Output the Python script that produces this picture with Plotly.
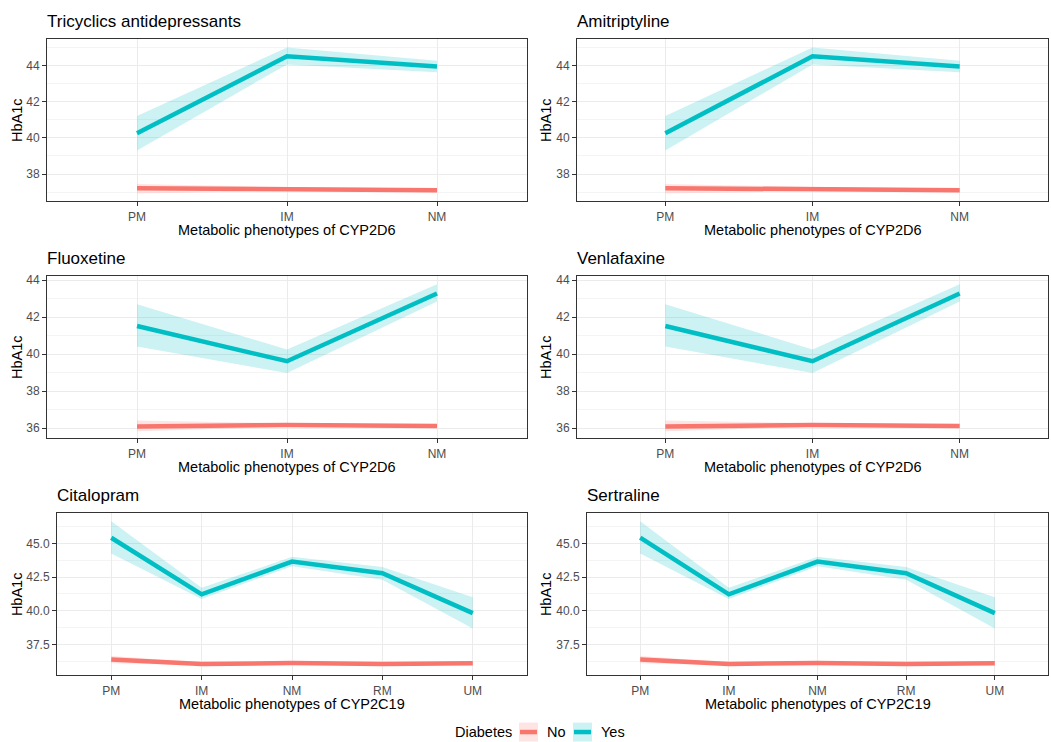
import plotly.graph_objects as go

# ---------------- data ----------------
cyp2d6_cats = ["PM", "IM", "NM"]
cyp2c19_cats = ["PM", "IM", "NM", "RM", "UM"]

tca_yes_mean = [40.25, 44.50, 43.93]
tca_yes_lo = [39.30, 44.05, 43.62]
tca_yes_hi = [41.20, 44.98, 44.25]
tca_no_mean = [37.22, 37.17, 37.10]
tca_no_lo = [36.92, 37.06, 37.00]
tca_no_hi = [37.45, 37.28, 37.20]

ami_yes_mean = [40.25, 44.50, 43.93]
ami_yes_lo = [39.30, 44.05, 43.62]
ami_yes_hi = [41.20, 44.98, 44.25]
ami_no_mean = [37.22, 37.17, 37.10]
ami_no_lo = [36.92, 37.06, 37.00]
ami_no_hi = [37.45, 37.28, 37.20]

flx_yes_mean = [41.52, 39.62, 43.28]
flx_yes_lo = [40.42, 38.98, 42.85]
flx_yes_hi = [42.70, 40.25, 43.78]
flx_no_mean = [36.10, 36.18, 36.12]
flx_no_lo = [35.84, 36.08, 36.04]
flx_no_hi = [36.42, 36.27, 36.20]

ven_yes_mean = [41.52, 39.62, 43.28]
ven_yes_lo = [40.42, 38.98, 42.85]
ven_yes_hi = [42.70, 40.25, 43.78]
ven_no_mean = [36.10, 36.18, 36.12]
ven_no_lo = [35.84, 36.08, 36.04]
ven_no_hi = [36.42, 36.27, 36.20]

cit_yes_mean = [45.42, 41.22, 43.65, 42.78, 39.82]
cit_yes_lo = [44.25, 40.88, 43.30, 42.30, 38.68]
cit_yes_hi = [46.65, 41.70, 44.00, 43.25, 41.00]
cit_no_mean = [36.38, 36.05, 36.12, 36.05, 36.10]
cit_no_lo = [36.10, 35.95, 36.02, 35.96, 35.98]
cit_no_hi = [36.64, 36.15, 36.22, 36.14, 36.25]

ser_yes_mean = [45.42, 41.22, 43.65, 42.78, 39.82]
ser_yes_lo = [44.25, 40.88, 43.30, 42.30, 38.68]
ser_yes_hi = [46.65, 41.70, 44.00, 43.25, 41.00]
ser_no_mean = [36.38, 36.05, 36.12, 36.05, 36.10]
ser_no_lo = [36.10, 35.95, 36.02, 35.96, 35.98]
ser_no_hi = [36.64, 36.15, 36.22, 36.14, 36.25]

panel_titles = ["Tricyclics antidepressants", "Amitriptyline", "Fluoxetine",
                "Venlafaxine", "Citalopram", "Sertraline"]
legend_labels = ["No", "Yes"]

# ---------------- styling / layout ----------------
W, H = 1051, 742
COL_NO = "#F8766D"
COL_YES = "#00BFC4"
FILL_NO = "rgba(248,118,109,0.2)"
FILL_YES = "rgba(0,191,196,0.2)"
FONT = "Liberation Sans, Arial, sans-serif"

def px(x):
    return x / W

def py(y):
    return 1 - y / H

panels = [
    dict(title=panel_titles[0], cats=cyp2d6_cats, gene="CYP2D6",
         yes=(tca_yes_mean, tca_yes_lo, tca_yes_hi), no=(tca_no_mean, tca_no_lo, tca_no_hi),
         box=(47, 36, 527, 199), yr=[36.50, 45.46], dtick=2, t0=38, fmt="d", ytx=17),
    dict(title=panel_titles[1], cats=cyp2d6_cats, gene="CYP2D6",
         yes=(ami_yes_mean, ami_yes_lo, ami_yes_hi), no=(ami_no_mean, ami_no_lo, ami_no_hi),
         box=(577, 36, 1048, 199), yr=[36.50, 45.46], dtick=2, t0=38, fmt="d", ytx=546),
    dict(title=panel_titles[2], cats=cyp2d6_cats, gene="CYP2D6",
         yes=(flx_yes_mean, flx_yes_lo, flx_yes_hi), no=(flx_no_mean, flx_no_lo, flx_no_hi),
         box=(47, 274, 527, 437), yr=[35.46, 44.23], dtick=2, t0=36, fmt="d", ytx=17),
    dict(title=panel_titles[3], cats=cyp2d6_cats, gene="CYP2D6",
         yes=(ven_yes_mean, ven_yes_lo, ven_yes_hi), no=(ven_no_mean, ven_no_lo, ven_no_hi),
         box=(577, 274, 1048, 437), yr=[35.46, 44.23], dtick=2, t0=36, fmt="d", ytx=546),
    dict(title=panel_titles[4], cats=cyp2c19_cats, gene="CYP2C19",
         yes=(cit_yes_mean, cit_yes_lo, cit_yes_hi), no=(cit_no_mean, cit_no_lo, cit_no_hi),
         box=(57, 512, 527, 675), yr=[35.21, 47.26], dtick=2.5, t0=37.5, fmt=".1f", ytx=17),
    dict(title=panel_titles[5], cats=cyp2c19_cats, gene="CYP2C19",
         yes=(ser_yes_mean, ser_yes_lo, ser_yes_hi), no=(ser_no_mean, ser_no_lo, ser_no_hi),
         box=(587, 512, 1048, 675), yr=[35.21, 47.26], dtick=2.5, t0=37.5, fmt=".1f", ytx=546),
]

fig = go.Figure()
annotations = []
layout_axes = {}

for i, p in enumerate(panels):
    k = "" if i == 0 else str(i + 1)
    xa, ya = "x" + k, "y" + k
    n = len(p["cats"])
    xs = list(range(n))
    # ribbons
    for (mean, lo, hi), fc in ((p["no"], FILL_NO), (p["yes"], FILL_YES)):
        fig.add_trace(go.Scatter(
            x=xs + xs[::-1], y=list(lo) + list(hi)[::-1],
            fill="toself", fillcolor=fc, line=dict(width=0), mode="lines",
            hoverinfo="skip", showlegend=False, xaxis=xa, yaxis=ya))
    # lines
    for (mean, lo, hi), lc, nm in ((p["no"], COL_NO, legend_labels[0]),
                                    (p["yes"], COL_YES, legend_labels[1])):
        fig.add_trace(go.Scatter(
            x=xs, y=mean, mode="lines", line=dict(color=lc, width=4.5),
            name=nm, showlegend=False, xaxis=xa, yaxis=ya))

    x0, y0, x1, y1 = p["box"]
    common = dict(showline=True, mirror=True, linecolor="#333333", linewidth=1,
                  ticks="outside", ticklen=4, tickwidth=1, tickcolor="#333333",
                  tickfont=dict(family=FONT, size=12, color="#4D4D4D"),
                  showgrid=True, gridcolor="#EBEBEB", gridwidth=1, zeroline=False)
    layout_axes["xaxis" + k] = dict(
        domain=[px(x0), px(x1)], anchor=ya, range=[-0.6, n - 1 + 0.6],
        tickmode="array", tickvals=xs, ticktext=p["cats"], **common)
    layout_axes["yaxis" + k] = dict(
        domain=[py(y1), py(y0)], anchor=xa, range=p["yr"],
        tickmode="linear", tick0=p["t0"], dtick=p["dtick"], tickformat=p["fmt"],
        minor=dict(tick0=p["t0"], dtick=p["dtick"] / 2, showgrid=True,
                   gridcolor="#F4F4F4", gridwidth=1, ticks=""),
        **common)

    # panel title
    annotations.append(dict(text=p["title"], x=px(x0 - 2), y=py(y0 - 17), xref="paper", yref="paper",
                            xanchor="left", yanchor="middle", showarrow=False,
                            font=dict(family=FONT, size=17, color="black")))
    # x axis title
    annotations.append(dict(text="Metabolic phenotypes of " + p["gene"], x=px((x0 + x1) / 2),
                            y=py(y1 + 29), xref="paper", yref="paper",
                            xanchor="center", yanchor="middle", showarrow=False,
                            font=dict(family=FONT, size=14.5, color="black")))
    # y axis title
    annotations.append(dict(text="HbA1c", x=px(p["ytx"]), y=py((y0 + y1) / 2),
                            xref="paper", yref="paper", textangle=-90,
                            xanchor="center", yanchor="middle", showarrow=False,
                            font=dict(family=FONT, size=14.5, color="black")))

# ---------------- legend (drawn as guide) ----------------
shapes = []
leg_y = 732
annotations.append(dict(text="Diabetes", x=px(453), y=py(leg_y), xref="paper", yref="paper",
                        xanchor="left", yanchor="middle", showarrow=False,
                        font=dict(family=FONT, size=14.5, color="black")))
for kx, lab, lc, fc in ((519, legend_labels[0], COL_NO, FILL_NO),
                        (573, legend_labels[1], COL_YES, FILL_YES)):
    shapes.append(dict(type="rect", xref="paper", yref="paper",
                       x0=px(kx), x1=px(kx + 19), y0=py(leg_y + 9.5), y1=py(leg_y - 9.5),
                       fillcolor=fc, line=dict(width=0)))
    shapes.append(dict(type="line", xref="paper", yref="paper",
                       x0=px(kx + 1), x1=px(kx + 18), y0=py(leg_y), y1=py(leg_y),
                       line=dict(color=lc, width=4.5)))
    annotations.append(dict(text=lab, x=px(kx + 26), y=py(leg_y), xref="paper", yref="paper",
                            xanchor="left", yanchor="middle", showarrow=False,
                            font=dict(family=FONT, size=14.5, color="black")))

fig.update_layout(
    width=W, height=H, margin=dict(l=0, r=0, t=0, b=0),
    paper_bgcolor="white", plot_bgcolor="white",
    showlegend=False, annotations=annotations, shapes=shapes,
    font=dict(family=FONT), hovermode=False,
    **layout_axes)

fig.write_html("out.html", config={"displayModeBar": False},
               post_script="document.body.style.margin='0';document.body.style.padding='0';")
